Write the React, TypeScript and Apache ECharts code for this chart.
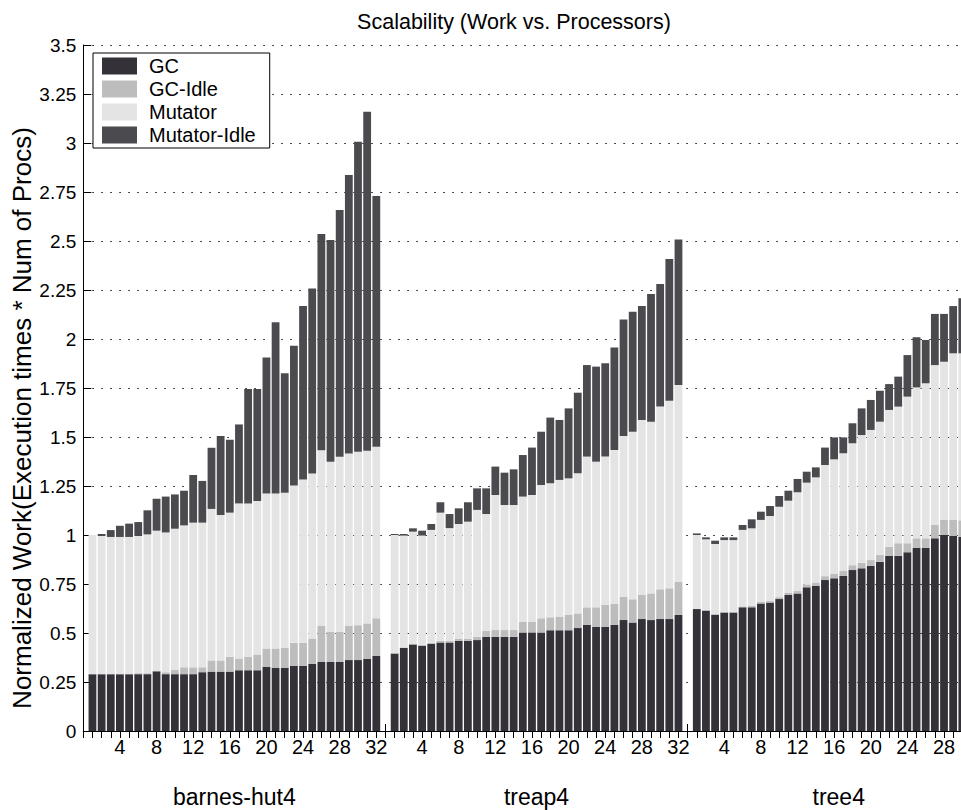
import React, { useEffect, useRef } from "react";
import * as echarts from "echarts";

const procs = [1, 2, 3, 4, 5, 6, 7, 8, 9, 10, 11, 12, 13, 14, 15, 16, 17, 18, 19, 20, 21, 22, 23, 24, 25, 26, 27, 28, 29, 30, 31, 32];
const groups = ["barnes-hut4", "treap4", "tree4"];
const seriesNames = ["GC", "GC-Idle", "Mutator", "Mutator-Idle"];
const seriesColors = ["#343139", "#bdbdbd", "#e4e4e4", "#4b4a4f"];
const yMin = 0;
const yMax = 3.5;
const yStep = 0.25;

const barnesGC = [0.29, 0.29, 0.29, 0.29, 0.29, 0.29, 0.29, 0.305, 0.29, 0.29, 0.29, 0.29, 0.3, 0.303, 0.303, 0.303, 0.31, 0.31, 0.31, 0.328, 0.323, 0.323, 0.332, 0.332, 0.342, 0.352, 0.352, 0.352, 0.362, 0.362, 0.369, 0.383];
const barnesGCIdle = [0, 0, 0, 0, 0, 0.005, 0.005, 0, 0.01, 0.021, 0.035, 0.035, 0.025, 0.057, 0.057, 0.076, 0.06, 0.069, 0.08, 0.093, 0.098, 0.102, 0.118, 0.118, 0.13, 0.184, 0.155, 0.155, 0.174, 0.178, 0.18, 0.192];
const barnesMutator = [0.71, 0.705, 0.7, 0.7, 0.7, 0.7, 0.708, 0.717, 0.713, 0.721, 0.724, 0.738, 0.738, 0.773, 0.742, 0.735, 0.791, 0.782, 0.783, 0.791, 0.791, 0.791, 0.802, 0.833, 0.842, 0.896, 0.867, 0.892, 0.88, 0.885, 0.881, 0.875];
const barnesMutatorIdle = [0, 0.01, 0.035, 0.057, 0.068, 0.071, 0.123, 0.163, 0.183, 0.175, 0.177, 0.243, 0.213, 0.312, 0.403, 0.372, 0.403, 0.584, 0.572, 0.694, 0.873, 0.609, 0.714, 0.885, 0.944, 1.104, 1.131, 1.259, 1.421, 1.582, 1.73, 1.28];

const treapGC = [0.396, 0.425, 0.442, 0.435, 0.444, 0.452, 0.452, 0.461, 0.461, 0.464, 0.481, 0.481, 0.481, 0.481, 0.503, 0.503, 0.503, 0.514, 0.514, 0.514, 0.525, 0.541, 0.532, 0.532, 0.541, 0.566, 0.553, 0.571, 0.566, 0.571, 0.571, 0.592];
const treapGCIdle = [0, 0, 0, 0.005, 0.006, 0.008, 0.008, 0.009, 0.009, 0.016, 0.029, 0.034, 0.034, 0.034, 0.055, 0.055, 0.072, 0.066, 0.07, 0.078, 0.075, 0.09, 0.099, 0.111, 0.109, 0.119, 0.119, 0.123, 0.136, 0.152, 0.157, 0.17];
const treapMutator = [0.604, 0.572, 0.575, 0.557, 0.576, 0.654, 0.575, 0.586, 0.598, 0.648, 0.597, 0.689, 0.638, 0.638, 0.638, 0.646, 0.68, 0.684, 0.697, 0.697, 0.715, 0.769, 0.743, 0.757, 0.784, 0.82, 0.855, 0.893, 0.876, 0.932, 0.957, 1.003];
const treapMutatorIdle = [0.005, 0.008, 0.017, 0.025, 0.03, 0.053, 0.072, 0.08, 0.099, 0.11, 0.131, 0.145, 0.165, 0.182, 0.212, 0.242, 0.272, 0.335, 0.306, 0.357, 0.411, 0.467, 0.485, 0.476, 0.522, 0.595, 0.612, 0.581, 0.652, 0.626, 0.723, 0.743];

const treeGC = [0.622, 0.614, 0.592, 0.604, 0.604, 0.631, 0.631, 0.651, 0.655, 0.673, 0.694, 0.702, 0.733, 0.74, 0.77, 0.779, 0.791, 0.821, 0.83, 0.842, 0.864, 0.893, 0.893, 0.912, 0.935, 0.935, 0.983, 1.0, 0.995, 0.99, 1.0, 1.01];
const treeGCIdle = [0, 0.005, 0.005, 0.005, 0.005, 0.005, 0.008, 0.008, 0.008, 0.01, 0.01, 0.012, 0.015, 0.018, 0.02, 0.022, 0.025, 0.025, 0.028, 0.03, 0.035, 0.047, 0.065, 0.046, 0.048, 0.048, 0.068, 0.077, 0.082, 0.085, 0.09, 0.095];
const treeMutator = [0.378, 0.359, 0.357, 0.365, 0.365, 0.39, 0.395, 0.418, 0.434, 0.461, 0.471, 0.504, 0.519, 0.536, 0.567, 0.585, 0.601, 0.622, 0.652, 0.664, 0.679, 0.698, 0.697, 0.748, 0.77, 0.791, 0.816, 0.807, 0.85, 0.852, 0.87, 0.875];
const treeMutatorIdle = [0.008, 0.01, 0.017, 0.014, 0.014, 0.025, 0.046, 0.042, 0.051, 0.055, 0.051, 0.068, 0.056, 0.051, 0.089, 0.112, 0.081, 0.102, 0.136, 0.153, 0.158, 0.132, 0.153, 0.212, 0.256, 0.221, 0.261, 0.244, 0.241, 0.281, 0.3, 0.32];

const layerData = [
  [barnesGC, treapGC, treeGC],
  [barnesGCIdle, treapGCIdle, treeGCIdle],
  [barnesMutator, treapMutator, treeMutator],
  [barnesMutatorIdle, treapMutatorIdle, treeMutatorIdle],
];

const FONT = '"Liberation Sans", Arial, Helvetica, sans-serif';
const CHART_WIDTH = 996;
const VISIBLE_WIDTH = 961;

export default function App() {
  const ref = useRef<HTMLDivElement>(null);

  useEffect(() => {
    if (!ref.current) return;
    const chart = echarts.init(ref.current, null, { renderer: "svg" });

    const slotsPerGroup = procs.length + 1;
    const slotCount = slotsPerGroup * groups.length;
    const categories = Array.from({ length: slotCount + 1 }, (_, k) => String(k));
    const gridLeft = 83.3;
    const gridRight = CHART_WIDTH - 989.8;
    const slotPx = (CHART_WIDTH - gridLeft - gridRight) / slotCount;

    const series = seriesNames.map((name, s) => ({
      name,
      type: "bar",
      stack: "work",
      barWidth: 7.8,
      xAxisIndex: 0,
      yAxisIndex: 0,
      itemStyle: { color: seriesColors[s] },
      emphasis: { disabled: true },
      data: categories.map((_, k) => {
        const g = Math.floor(k / slotsPerGroup);
        const p = k % slotsPerGroup;
        if (p === 0 || g >= groups.length) return "-";
        return layerData[s][g][p - 1];
      }),
    }));

    const axisLineStyle = { color: "#000", width: 1 };

    chart.setOption({
      animation: false,
      backgroundColor: "#fff",
      textStyle: { fontFamily: FONT },
      title: {
        text: "Scalability (Work vs. Processors)",
        left: 509,
        top: 6,
        textAlign: "center",
        textStyle: { fontSize: 21.5, fontWeight: "normal", color: "#000", fontFamily: FONT },
      },
      legend: {
        orient: "vertical",
        left: 93,
        top: 53,
        itemWidth: 35,
        itemHeight: 17,
        itemGap: 3,
        padding: [3, 14, 3, 9],
        borderColor: "#000",
        borderWidth: 1,
        backgroundColor: "#fff",
        icon: "rect",
        selectedMode: false,
        data: seriesNames,
        textStyle: { fontSize: 20, color: "#000", fontFamily: FONT, padding: [0, 0, 0, 7] },
      },
      grid: { left: gridLeft, right: gridRight, top: 45, bottom: 79, containLabel: false },
      xAxis: [
        {
          type: "category",
          position: "bottom",
          data: categories,
          boundaryGap: false,
          axisLine: { show: true, lineStyle: axisLineStyle },
          axisTick: { show: true, inside: true, length: 7, interval: 0, lineStyle: axisLineStyle },
          axisLabel: {
            interval: 0,
            fontSize: 20,
            color: "#000",
            fontFamily: FONT,
            margin: 6,
            formatter: (_v: string, idx: number) => {
              const p = idx % slotsPerGroup;
              if (p === 0 || idx >= slotCount) return "";
              // labels whose slot lies past the visible page edge are not drawn (as in the cropped reference)
              if (gridLeft + idx * slotPx + 10 > VISIBLE_WIDTH) return "";
              const proc = procs[p - 1];
              return proc % 4 === 0 ? String(proc) : "";
            },
          },
          splitLine: { show: false },
        },
        {
          type: "category",
          position: "top",
          data: categories,
          boundaryGap: false,
          axisLine: { show: true, lineStyle: axisLineStyle },
          axisTick: { show: true, inside: true, length: 7, interval: 0, lineStyle: axisLineStyle },
          axisLabel: { show: false },
          splitLine: { show: false },
        },
        {
          type: "value",
          position: "bottom",
          min: 0,
          max: slotCount,
          interval: slotCount / (groups.length * 2),
          axisLine: { show: false },
          axisTick: { show: false },
          splitLine: { show: false },
          axisLabel: {
            fontSize: 23,
            color: "#000",
            fontFamily: FONT,
            margin: 54,
            showMinLabel: true,
            showMaxLabel: true,
            formatter: (v: number) => {
              const half = slotCount / (groups.length * 2);
              const idx = (Math.round(v / half) - 1) / 2;
              return Number.isInteger(idx) && idx >= 0 && idx < groups.length ? groups[idx] : "";
            },
          },
        },
      ],
      yAxis: [
        {
          type: "value",
          min: yMin,
          max: yMax,
          interval: yStep,
          axisLine: { show: true, lineStyle: axisLineStyle },
          axisTick: { show: true, inside: true, length: 8, lineStyle: axisLineStyle },
          axisLabel: { fontSize: 19, color: "#000", fontFamily: FONT, margin: 7 },
          splitLine: { show: true, lineStyle: { type: [1.5, 7.5], color: "#111", width: 1.2 } },
        },
        {
          type: "value",
          position: "right",
          min: yMin,
          max: yMax,
          interval: yStep,
          axisLine: { show: true, lineStyle: axisLineStyle },
          axisTick: { show: true, inside: true, length: 8, lineStyle: axisLineStyle },
          axisLabel: { show: false },
          splitLine: { show: false },
        },
      ],
      graphic: [
        {
          type: "text",
          x: 22,
          y: 418,
          rotation: Math.PI / 2,
          style: {
            text: "Normalized Work(Execution times * Num of Procs)",
            fontSize: 26,
            fontFamily: FONT,
            fill: "#000",
            align: "center",
            verticalAlign: "middle",
            textAlign: "center",
            textVerticalAlign: "middle",
          },
        },
      ],
      series,
    });

    return () => {
      chart.dispose();
    };
  }, []);

  return (
    <div
      style={{
        position: "fixed",
        left: 0,
        top: 0,
        width: VISIBLE_WIDTH,
        height: 810,
        overflow: "hidden",
        background: "#fff",
      }}
    >
      <div ref={ref} style={{ width: CHART_WIDTH, height: 810 }} />
    </div>
  );
}
